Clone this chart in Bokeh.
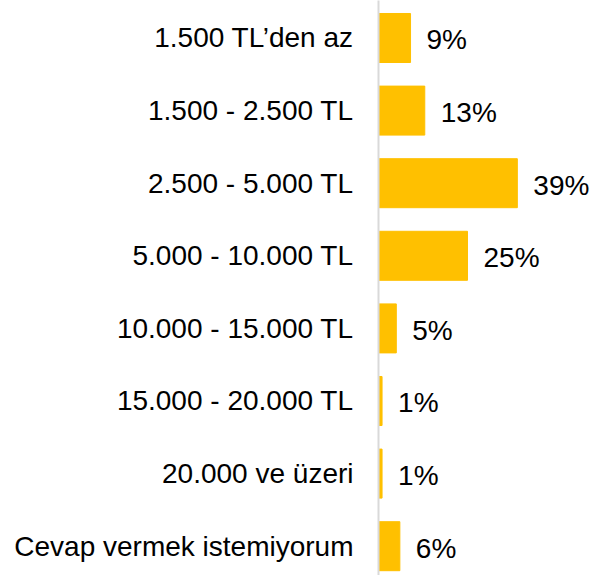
from bokeh.plotting import figure
from bokeh.models import ColumnDataSource, Range1d, FixedTicker
from bokeh.core.properties import value
from bokeh.embed import file_html
from bokeh.resources import INLINE

categories = ["1.500 TL\u2019den az", "1.500 - 2.500 TL", "2.500 - 5.000 TL",
              "5.000 - 10.000 TL", "10.000 - 15.000 TL", "15.000 - 20.000 TL",
              "20.000 ve \u00fczeri", "Cevap vermek istemiyorum"]
percents = [9, 13, 39, 25, 5, 1, 1, 6]
labels = [f"{v}%" for v in percents]

idx = list(range(len(categories)))
src = ColumnDataSource(dict(y=idx, v=percents, lab=labels))

FONT = "Liberation Sans"

p = figure(width=598, height=575, output_backend="svg", toolbar_location=None,
           x_range=Range1d(0, 61.8), y_range=Range1d(7.4036, -0.5165),
           min_border_left=378, min_border_right=0, min_border_top=0, min_border_bottom=0)
p.outline_line_color = None
p.grid.visible = False
p.xaxis.visible = False

p.hbar(y="y", right="v", left=0, height=0.675, source=src, color="#FFC000")
p.text(x="v", y="y", text="lab", source=src, x_offset=16, y_offset=2,
       text_baseline="middle", text_align="left", text_color="#000000",
       text_font=value(FONT), text_font_size="28px")

ya = p.yaxis[0]
ya.ticker = FixedTicker(ticks=idx)
ya.major_label_overrides = {i: c for i, c in enumerate(categories)}
ya.major_tick_line_color = None
ya.minor_tick_line_color = None
ya.major_tick_out = 0
ya.major_tick_in = 0
ya.major_label_standoff = 25
ya.axis_line_color = "#D9D9D9"
ya.axis_line_width = 2
ya.major_label_text_font = FONT
ya.major_label_text_font_size = "28px"
ya.major_label_text_color = "#000000"

open("out.html", "w").write(file_html(p, INLINE))
